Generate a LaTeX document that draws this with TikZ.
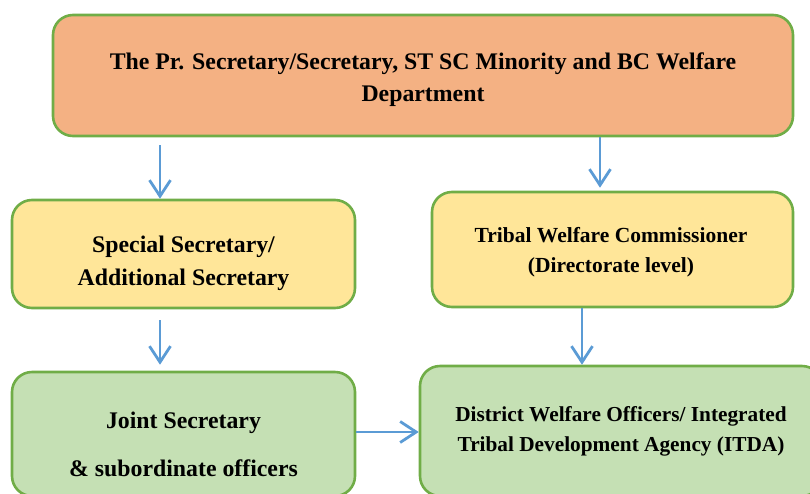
\documentclass[tikz,border=0pt]{standalone}
\usepackage{fontspec}
\setmainfont{Liberation Serif}[BoldFont={Liberation Serif Bold}, ItalicFont={Liberation Serif Italic}]
\usetikzlibrary{arrows.meta}
\definecolor{orangefill}{HTML}{F4B183}
\definecolor{yellowfill}{HTML}{FFE699}
\definecolor{greenfill}{HTML}{C5E0B4}
\definecolor{boxline}{HTML}{70AD47}
\definecolor{arrowblue}{HTML}{5B9BD5}
\tikzset{
  box/.style={draw=boxline, line width=2.6pt, rounded corners=20pt, inner sep=0pt},
  txt/.style 2 args={align=center, font=\rmfamily\bfseries\fontsize{#1}{#2}\selectfont, inner sep=0pt},
  arr/.style={draw=arrowblue, line width=2.8pt, -{Straight Barb[length=16pt,width=21pt,line width=2.8pt]}}
}
\begin{document}
\begin{tikzpicture}[x=1pt,y=-1pt]
\useasboundingbox (0,0) rectangle (810,493);
\clip (0,0) rectangle (810,493);
% boxes
\node[box, fill=orangefill, minimum width=740pt, minimum height=121pt] (top) at (423,75.5) {};
\node[box, fill=yellowfill, minimum width=343pt, minimum height=108pt] (sp) at (183.5,254) {};
\node[box, fill=yellowfill, minimum width=361pt, minimum height=115pt] (tw) at (612.5,249.5) {};
\node[box, fill=greenfill, minimum width=343pt, minimum height=124pt] (js) at (183.5,434) {};
\node[box, fill=greenfill, minimum width=402pt, minimum height=130pt] (dw) at (621,431) {};
% texts
\node[txt={23.8}{32}] (topt) at (423,80) {The Pr. Secretary/Secretary, ST SC Minority and BC Welfare\\Department};
\node[txt={23.8}{33}] (spt) at (183.5,263) {Special Secretary/\\Additional Secretary};
\node[txt={21.5}{30}] (twt) at (611,252) {Tribal Welfare Commissioner\\(Directorate level)};
\node[txt={23.8}{48}] (jst) at (183.5,444) {Joint Secretary\\\& subordinate officers};
\node[txt={21.3}{30}] (dwt) at (621,431) {District Welfare Officers/ Integrated\\Tribal Development Agency (ITDA)};
% connectors
\coordinate (a1) at (160,145);
\coordinate (a3) at (160,320);
\draw[arr] (a1) -- (a1 |- sp.north);
\draw[arr] (top.south -| 600,0) -- ([yshift=3pt]tw.north -| 600,0);
\draw[arr] (a3) -- ([yshift=6pt]a3 |- js.north);
\draw[arr] (tw.south -| 582,0) -- (dw.north -| 582,0);
\draw[arr] (js.east |- 0,432) -- (dw.west |- 0,432);
\end{tikzpicture}
\end{document}
